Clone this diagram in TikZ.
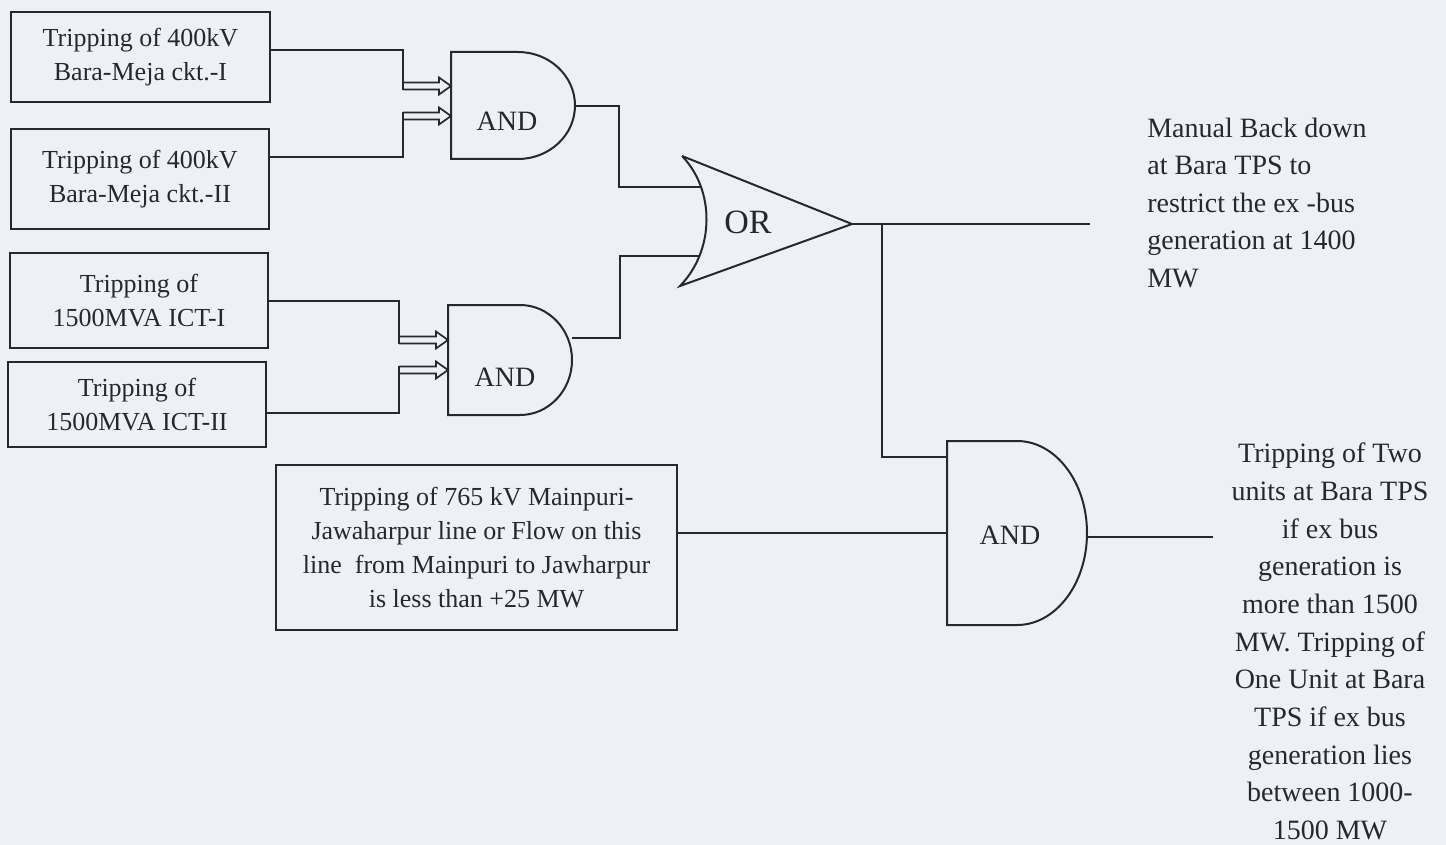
\documentclass[tikz,border=0pt]{standalone}
\usepackage{fontspec}
\setmainfont{Liberation Serif}
\usetikzlibrary{arrows.meta}
\definecolor{paper}{RGB}{237,240,246}
\definecolor{ink}{RGB}{40,40,44}

\begin{document}
\begin{tikzpicture}[x=1pt,y=-1pt,line width=2pt,color=ink,
  box/.style={draw,align=center,inner sep=0pt,font=\fontsize{26}{34}\selectfont},
  gatetext/.style={font=\fontsize{28}{34}\selectfont},
  blk/.style={line width=1.7pt,line join=miter}]

\fill[paper] (0,0) rectangle (1446,845);

% input boxes
\node[box,minimum width=259pt,minimum height=90pt] (b1) at (140.5,57) {Tripping of 400kV\\Bara-Meja ckt.-I};
\node[box,minimum width=258pt,minimum height=100pt] (b2) at (140,179) {Tripping of 400kV\\Bara-Meja ckt.-II};
\node[box,minimum width=258pt,minimum height=95pt] (b3) at (139,300.5) {Tripping of\\1500MVA ICT-I};
\node[box,minimum width=258pt,minimum height=85pt] (b4) at (137,404.5) {Tripping of\\1500MVA ICT-II};
\node[box,minimum width=401pt,minimum height=165pt] (b5) at (476.5,547.5) {Tripping of 765 kV Mainpuri-\\Jawaharpur line or Flow on this\\line\ \ from Mainpuri to Jawharpur\\is less than +25 MW};

% gate ports
\coordinate (g1i1) at (451,86);
\coordinate (g1i2) at (451,116);
\coordinate (g1o) at (575,106);
\coordinate (g2i1) at (448,340);
\coordinate (g2i2) at (448,370);
\coordinate (g2o) at (572,338);
\coordinate (g3i1) at (947,457);
\coordinate (g3i2) at (947,533);
\coordinate (g3o) at (1087,537);
\coordinate (ori1) at (702,187);
\coordinate (ori2) at (700,256);
\coordinate (oro) at (852,224);
\coordinate (orend) at (1090,224);
\coordinate (g3end) at (1213,537);

% AND gates
\draw (451,52) -- (518,52) arc[start angle=90,end angle=-90,x radius=57pt,y radius=53.5pt] -- (451,159) -- cycle;
\draw (448,305) -- (520,305) arc[start angle=90,end angle=-90,x radius=52pt,y radius=55pt] -- (448,415) -- cycle;
\draw (947,441) -- (1017,441) arc[start angle=90,end angle=-90,x radius=70pt,y radius=92pt] -- (947,625) -- cycle;
\node[gatetext] (and1) at (507,121) {AND};
\node[gatetext] (and2) at (505,377) {AND};
\node[gatetext] (and3) at (1010,535) {AND};

% OR gate
\draw (682,156) -- (oro) -- (680,286) .. controls (715,250) and (715,190) .. (682,156);
\node[font=\fontsize{34}{40}\selectfont] (or) at (748,222) {OR};

% wiring
\draw ([yshift=7pt]b1.east) -| (403,90);
\draw ([yshift=22pt]b2.east) -| (403,112);
\draw (b3.east) -| (399,344);
\draw ([yshift=-8.5pt]b4.east) -| (399,366);

% hollow input arrows
\foreach \x/\y/\t in {403/86/451,403/116/451,399/340/448,399/370/448}
{
\draw[blk] (\x,\y-3.5) -- (\t-12,\y-3.5) -- (\t-12,\y-8.5) -- (\t,\y) -- (\t-12,\y+8.5) -- (\t-12,\y+3.5) -- (\x,\y+3.5);
}

\draw (g1o) -| (619,187) -- (ori1);
\draw (g2o) -| (620,256) -- (ori2);
\draw (oro) -- (orend);
\draw (882,224) |- (g3i1);
\draw (g3i2 -| b5.east) -- (g3i2);
\draw (g3o) -- (g3end);

% outcomes
\node[anchor=west,align=left,font=\fontsize{28}{37.5}\selectfont] (res1) at (1143,202.5)
  {Manual Back down\\at Bara TPS to\\restrict the ex -bus\\generation at 1400\\MW};
\node[align=center,font=\fontsize{28}{37.7}\selectfont] (res2) at (1330,641.5)
  {Tripping of Two\\units at Bara TPS\\if ex bus\\generation is\\more than 1500\\MW. Tripping of\\One Unit at Bara\\TPS if ex bus\\generation lies\\between 1000-\\1500 MW};
\end{tikzpicture}
\end{document}
